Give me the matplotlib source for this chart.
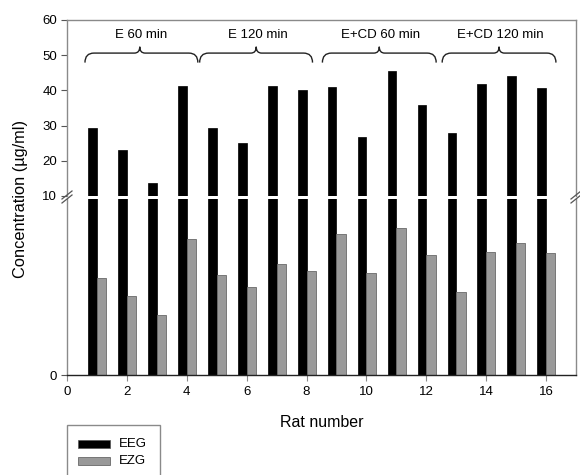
import matplotlib
matplotlib.use("Agg")
import matplotlib.pyplot as plt
from matplotlib.path import Path
from matplotlib.patches import PathPatch, Rectangle
from matplotlib.lines import Line2D

plt.rcParams['font.family'] = ['Liberation Sans', 'DejaVu Sans']

# ---- data ----
rats = list(range(1, 17))
eeg = [29.2, 23.2, 13.7, 41.2, 29.2, 25.0, 41.3, 40.0,
       41.0, 26.8, 45.5, 35.8, 28.0, 41.7, 44.0, 40.6]
ezg = [5.5, 4.5, 3.4, 7.7, 5.7, 5.0, 6.3, 5.9,
       8.0, 5.8, 8.35, 6.8, 4.7, 7.0, 7.5, 6.95]
groups = ["E 60 min", "E 120 min", "E+CD 60 min", "E+CD 120 min"]
group_spans = [(0.6, 4.37), (4.43, 8.2), (8.53, 12.33), (12.53, 16.33)]
group_mid = [2.43, 6.32, 10.43, 14.43]
xticks = list(range(0, 17, 2))
yticks_top = [10, 20, 30, 40, 50, 60]
yticks_bot = [0]
series_names = ["EEG", "EZG"]

W_PX, H_PX = 580, 475
fig = plt.figure(figsize=(W_PX / 100, H_PX / 100), dpi=100)

def fx(px):
    return px / W_PX

def fy(py):
    return 1 - py / H_PX

L, R = 67, 576
ax_top = fig.add_axes([fx(L), fy(196), fx(R) - fx(L), fy(20) - fy(196)])
ax_bot = fig.add_axes([fx(L), fy(375), fx(R) - fx(L), fy(199) - fy(375)])

bw = 0.29
eeg_color = 'black'
ezg_color = '#999999'
for ax in (ax_top, ax_bot):
    ax.bar([r - bw / 2 for r in rats], eeg, width=bw, color=eeg_color,
           edgecolor='black', linewidth=0.5)
    ax.bar([r + bw / 2 + 0.01 for r in rats], ezg, width=bw + 0.02, color=ezg_color,
           edgecolor='#6a6a6a', linewidth=0.6)
    ax.set_xlim(0, 17)
    for s in ax.spines.values():
        s.set_color('#8a8a8a')
        s.set_linewidth(1.0)
    ax.tick_params(axis='y', direction='out', length=4, width=0.8,
                   color='#555555', labelsize=9.5, pad=3)
    ax.tick_params(axis='x', direction='out', length=4, width=0.8,
                   color='#8a8a8a', labelsize=9.5, pad=4)

ax_top.set_ylim(10, 60)
ax_top.set_yticks(yticks_top)
ax_top.spines['bottom'].set_visible(False)
ax_top.set_xticks([])

ax_bot.set_ylim(0, 10)
ax_bot.set_yticks(yticks_bot)
ax_bot.spines['top'].set_visible(False)
ax_bot.spines['bottom'].set_color('#222222')
ax_bot.set_xticks(xticks)
ax_bot.set_xlabel("Rat number", fontsize=11.5, labelpad=12)

fig.text(fx(21), fy(199), "Concentration (µg/ml)", rotation=90,
         ha='center', va='center', fontsize=11.8)

# braces
y_end, y_h, y_peak = 47.9, 50.6, 52.4
for (x0, x1), xm, name in zip(group_spans, group_mid, groups):
    de, dm = 0.3, 0.18
    verts = [(x0, y_end), (x0, y_h), (x0 + de, y_h),
             (xm - dm, y_h), (xm, y_h), (xm, y_peak),
             (xm, y_h), (xm + dm, y_h),
             (x1 - de, y_h), (x1, y_h), (x1, y_end)]
    codes = [Path.MOVETO, Path.CURVE3, Path.CURVE3,
             Path.LINETO, Path.CURVE3, Path.CURVE3,
             Path.CURVE3, Path.CURVE3,
             Path.LINETO, Path.CURVE3, Path.CURVE3]
    ax_top.add_patch(PathPatch(Path(verts, codes), fill=False,
                               edgecolor='#222222', linewidth=1.0))
    ax_top.text(xm + 0.05, 55.6, name, ha='center', va='center', fontsize=9.5)

# axis break marks
for xpx in (L, R):
    for dy in (-2, 2):
        fig.add_artist(Line2D([fx(xpx - 5), fx(xpx + 5)],
                              [fy(201 + dy), fy(193 + dy)],
                              color='#555555', linewidth=0.9))

# legend (manual)
fig.add_artist(Rectangle((fx(67), fy(480)), fx(160) - fx(67), fy(425) - fy(480),
                         transform=fig.transFigure, fill=False,
                         edgecolor='#8a8a8a', linewidth=1.0))
for i, (name, col) in enumerate(zip(series_names, [eeg_color, ezg_color])):
    yc = 444 + i * 17
    fig.add_artist(Rectangle((fx(78), fy(yc + 4)), fx(110) - fx(78), fy(yc - 4) - fy(yc + 4),
                             transform=fig.transFigure, facecolor=col,
                             edgecolor='#555555', linewidth=0.5))
    fig.text(fx(119), fy(yc), name, ha='left', va='center', fontsize=9.5)

fig.savefig("out.png", dpi=100)
